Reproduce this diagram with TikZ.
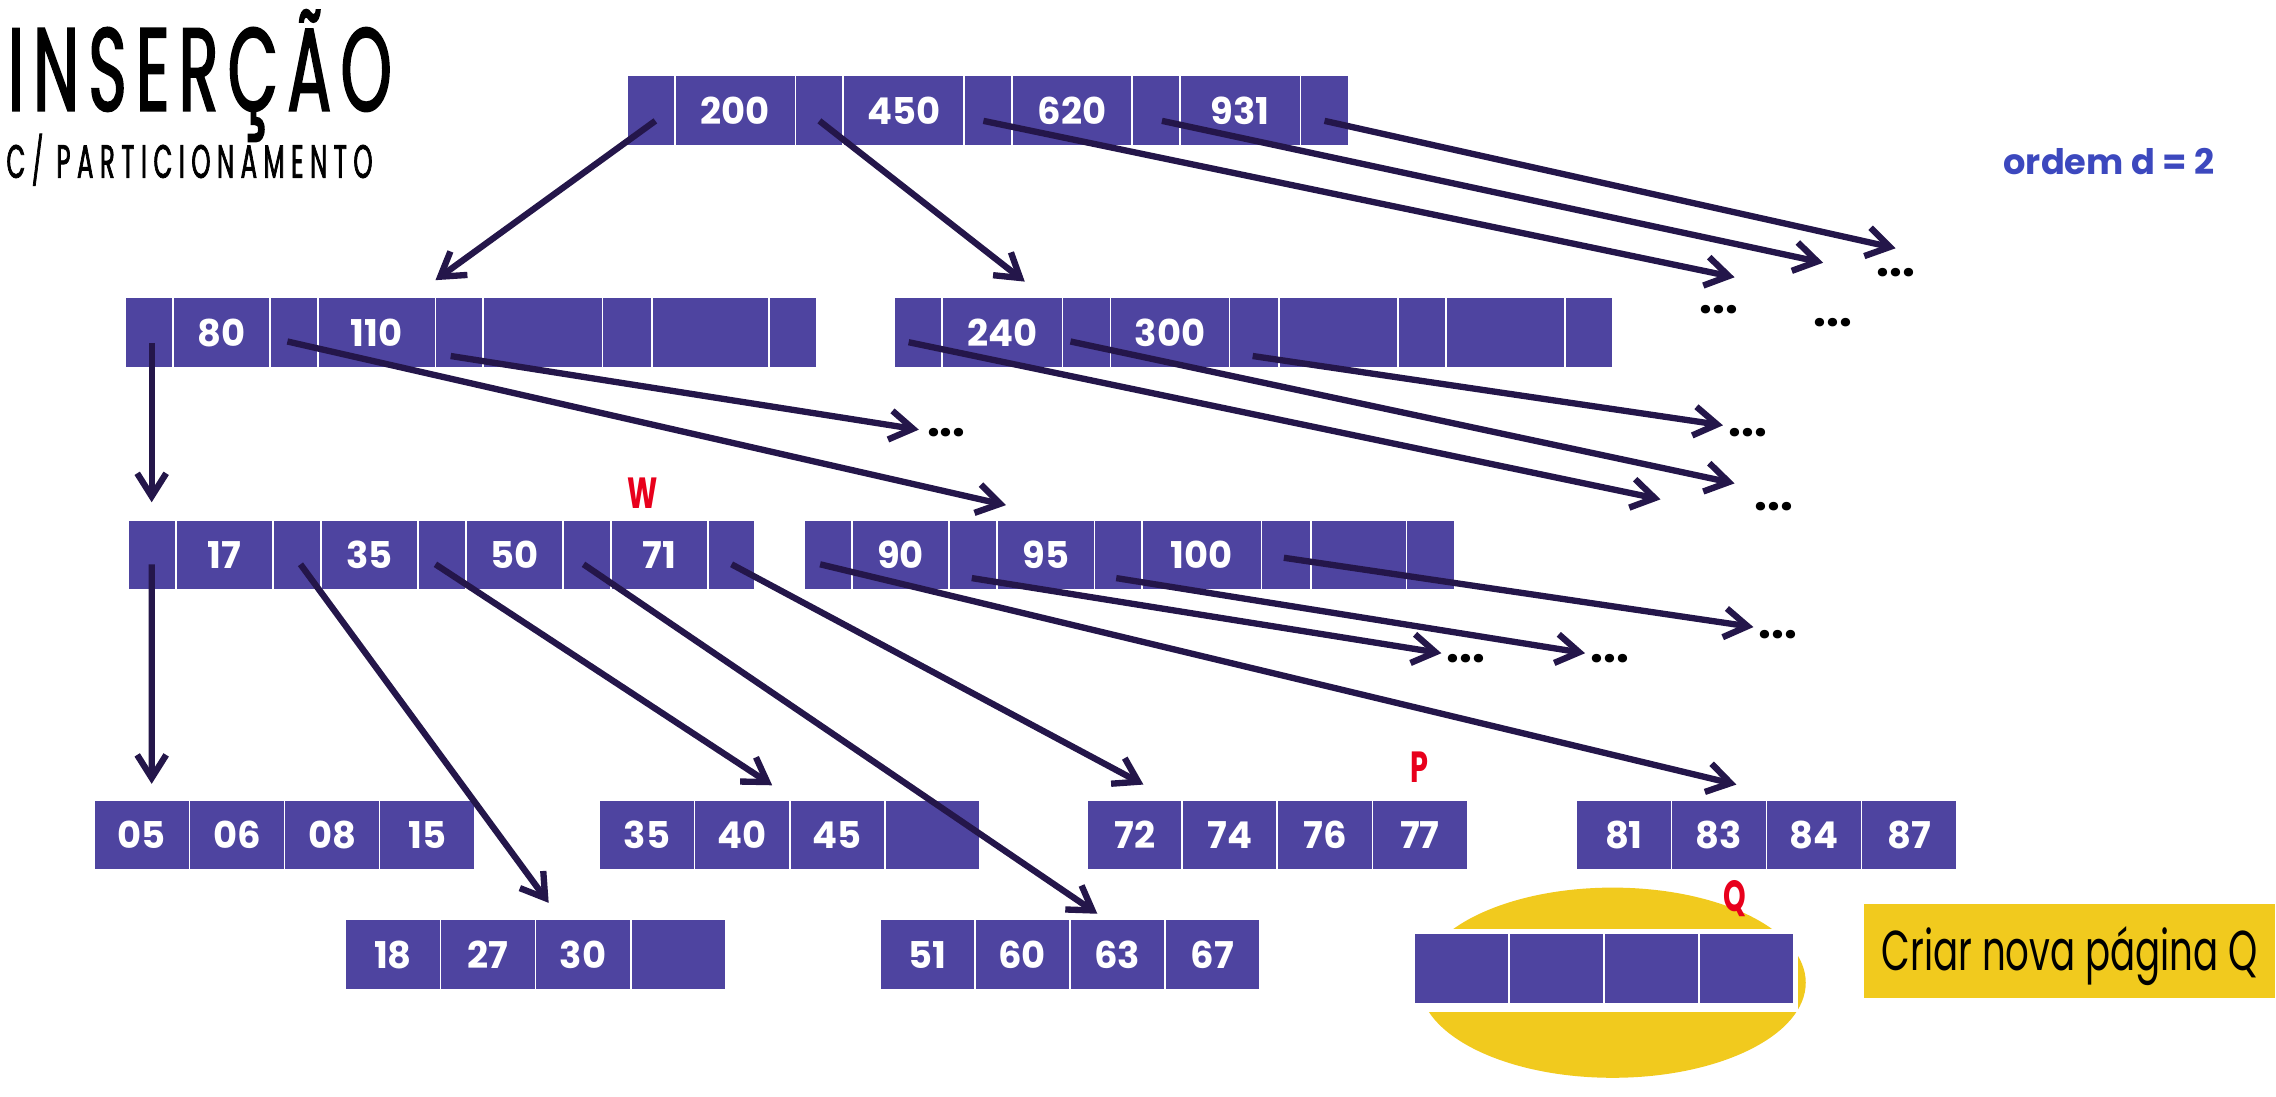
\documentclass[tikz,border=0pt]{standalone}
\usepackage{fontspec}
\setmainfont{Poppins}
\newfontfamily\titulofonte[FakeStretch=0.55,FakeBold=1.5,LetterSpace=8]{Poppins}
\newfontfamily\subtitulofonte[FakeStretch=0.52,FakeBold=1.5,LetterSpace=14]{Poppins}
\newfontfamily\estreita[FakeStretch=0.66]{Poppins}
\usetikzlibrary{positioning,arrows.meta}
\definecolor{roxo}{RGB}{78,68,160}
\definecolor{corseta}{RGB}{36,22,74}
\definecolor{vermelho}{RGB}{232,0,28}
\definecolor{azul}{RGB}{60,72,190}
\definecolor{amarelo}{RGB}{241,202,30}
\newcommand\U{0.014515cm}
% one page of the tree: name, north west corner, list of width/key
\newcommand\pagina[3]{%
  \foreach \w/\valor [count=\idx, remember=\idx as \prev (initially 0)] in {#3}{%
    \ifnum\idx=1
      \node[celula, minimum width=\w*\U] (#1-\idx) at (#2) {\valor};
    \else
      \node[celula, minimum width=\w*\U] (#1-\idx) at (#1-\prev.north east) {\valor};
    \fi}}
\begin{document}
\begin{tikzpicture}
[x=0.014515cm, y=-0.014515cm,%
  celula/.style={draw=white, line width=0.5pt, fill=roxo, text=white,
    font=\bfseries\fontsize{10.5}{12}\selectfont, minimum height=48.5*\U,
    inner sep=0pt, outer sep=0pt, anchor=north west},%
  seta/.style={draw=corseta, line width=1.8pt, -{Straight Barb[length=2.3mm,width=2.9mm]}},%
  reticencias/.style={font=\bfseries\fontsize{13}{14}\selectfont, inner sep=0pt},%
  rotulo/.style={text=vermelho, font=\estreita\bfseries\fontsize{12.4}{14}\selectfont, inner sep=0pt}]
\useasboundingbox (0,0) rectangle (1568,755.1);
%% titles
\node[anchor=base west, inner sep=0pt, font=\titulofonte\fontsize{33.6}{36}\selectfont] (titulo) at (5,76.3) {INSERÇÃO};
\node[anchor=base west, inner sep=0pt, font=\subtitulofonte\fontsize{13.3}{15}\selectfont] (subtitulo) at (4,122.5) {C/ PARTICIONAMENTO};
\node[text=azul, font=\bfseries\fontsize{10}{12}\selectfont, inner sep=0pt] (ordem) at (1453,111) {ordem d = 2};
%% new page Q
\fill[amarelo] (1111,677) ellipse [x radius=1.9305cm, y radius=0.9507cm];
\fill[white] (972,640) rectangle (1239,697);
\node[fill=amarelo, minimum width=283*\U, minimum height=65*\U, anchor=north west, inner sep=0pt,
  text height=11.2pt, text depth=0pt, font=\estreita\fontsize{16}{18}\selectfont] (nova) at (1284,622) {Criar nova página Q};
%% pages
\pagina{raiz}{432,52}{33/{},83/200,33/{},83/450,33/{},83/620,33/{},83/931,33/{}}
\pagina{p80}{86,205}{33/{},67/80,33/{},81/110,33/{},82/{},34/{},81/{},33/{}}
\pagina{p240}{616,205}{33/{},83/240,33/{},82/300,34/{},82/{},33/{},82/{},33/{}}
\pagina{pw}{88,358}{33/{},67/17,33/{},67/35,33/{},67/50,33/{},67/71,32/{}}
\pagina{p90}{554,358}{33/{},67/90,33/{},67/95,33/{},82/100,34/{},66/{},33/{}}
\pagina{f05}{65,551}{65.5/05,65.5/06,65.5/08,65.5/15}
\pagina{f18}{238,633.5}{65.5/18,65.5/27,65.5/30,65.5/{}}
\pagina{f35}{413,551}{65.5/35,65.5/40,65.5/45,65.5/{}}
\pagina{f51}{606,633.5}{65.5/51,65.5/60,65.5/63,65.5/67}
\pagina{f72}{749,551}{65.5/72,65.5/74,65.5/76,65.5/77}
\pagina{f81}{1086,551}{65.5/81,65.5/83,65.5/84,65.5/87}
\pagina{fq}{974,643}{65.5/{},65.5/{},65.5/{},65.5/{}}
%% labels
\node[rotulo, above=0.1cm of pw-8, xshift=-0.17cm] (w) {W};
\node[rotulo, above=0.17cm of f72-4] (p) {P};
\node[rotulo, above=0.16cm of fq-4, xshift=-0.12cm] (q) {Q};
%% free ends and dots
\coordinate (t620) at (1195,191);
\coordinate (t931) at (1256,181);
\coordinate (tfim) at (1306,171);
\coordinate (t80) at (633,296);
\coordinate (t240a) at (1144,344);
\coordinate (t240b) at (1195,333);
\coordinate (t240c) at (1187,293);
\coordinate (t90b) at (993,450);
\coordinate (t90c) at (1092,450);
\coordinate (t90d) at (1208,432);
\node[reticencias] (d620) at (1184,213) {...};
\node[reticencias] (d931) at (1263,222) {...};
\node[reticencias] (dfim) at (1306,188) {...};
\node[reticencias] (d80) at (652,298) {...};
\node[reticencias] (d240b) at (1222,349) {...};
\node[reticencias] (d240c) at (1204,298) {...};
\node[reticencias] (d90b) at (1010,454) {...};
\node[reticencias] (d90c) at (1109,454) {...};
\node[reticencias] (d90d) at (1225,437) {...};
%% root pointers
\draw[seta] ([shift={(3,7)}]raiz-1.center) -- ([shift={(0,-12)}]p80-4.north east);
\draw[seta] ([shift={(0,7)}]raiz-3.center) -- ([shift={(15.5,-11)}]p240-2.north);
\draw[seta] ([shift={(-3,7)}]raiz-5.center) -- (t620);
\draw[seta] ([shift={(4,7)}]raiz-7.center) -- (t931);
\draw[seta] ([shift={(0,7)}]raiz-9.center) -- (tfim);
%% second level pointers
\draw[seta] ([shift={(2,7)}]p80-1.center) -- ([shift={(0,-12)}]pw-1.north);
\draw[seta] ([shift={(-4.5,6)}]p80-3.center) -- ([shift={(6,-10)}]p90-3.north east);
\draw[seta] ([shift={(-6,16)}]p80-5.center) -- (t80);
\draw[seta] ([shift={(-6.5,6.5)}]p240-1.center) -- (t240a);
\draw[seta] ([shift={(-11,6)}]p240-3.center) -- (t240b);
\draw[seta] ([shift={(-1,16)}]p240-5.center) -- (t240c);
%% third level pointers
\draw[seta] ([shift={(0,6.5)}]pw-1.center) -- ([shift={(6.75,-11)}]f05-1.north);
\draw[seta] ([shift={(2.5,6.5)}]pw-3.center) -- ([shift={(9,-11.5)}]f18-3.north west);
\draw[seta] ([shift={(-4.5,6.5)}]pw-5.center) -- ([shift={(-12,-10)}]f35-2.north east);
\draw[seta] ([shift={(-2.5,6.5)}]pw-7.center) -- ([shift={(19,-4)}]f51-3.north west);
\draw[seta] ([shift={(0,6.5)}]pw-9.center) -- ([shift={(6,-10.5)}]f72-1.north);
\draw[seta] ([shift={(-5.5,6.5)}]p90-1.center) -- ([shift={(12,-10.5)}]f81-2.north);
\draw[seta] ([shift={(-1,16)}]p90-3.center) -- (t90b);
\draw[seta] ([shift={(-1.5,16)}]p90-5.center) -- (t90c);
\draw[seta] ([shift={(-1.5,2)}]p90-7.center) -- (t90d);
\end{tikzpicture}
\end{document}
